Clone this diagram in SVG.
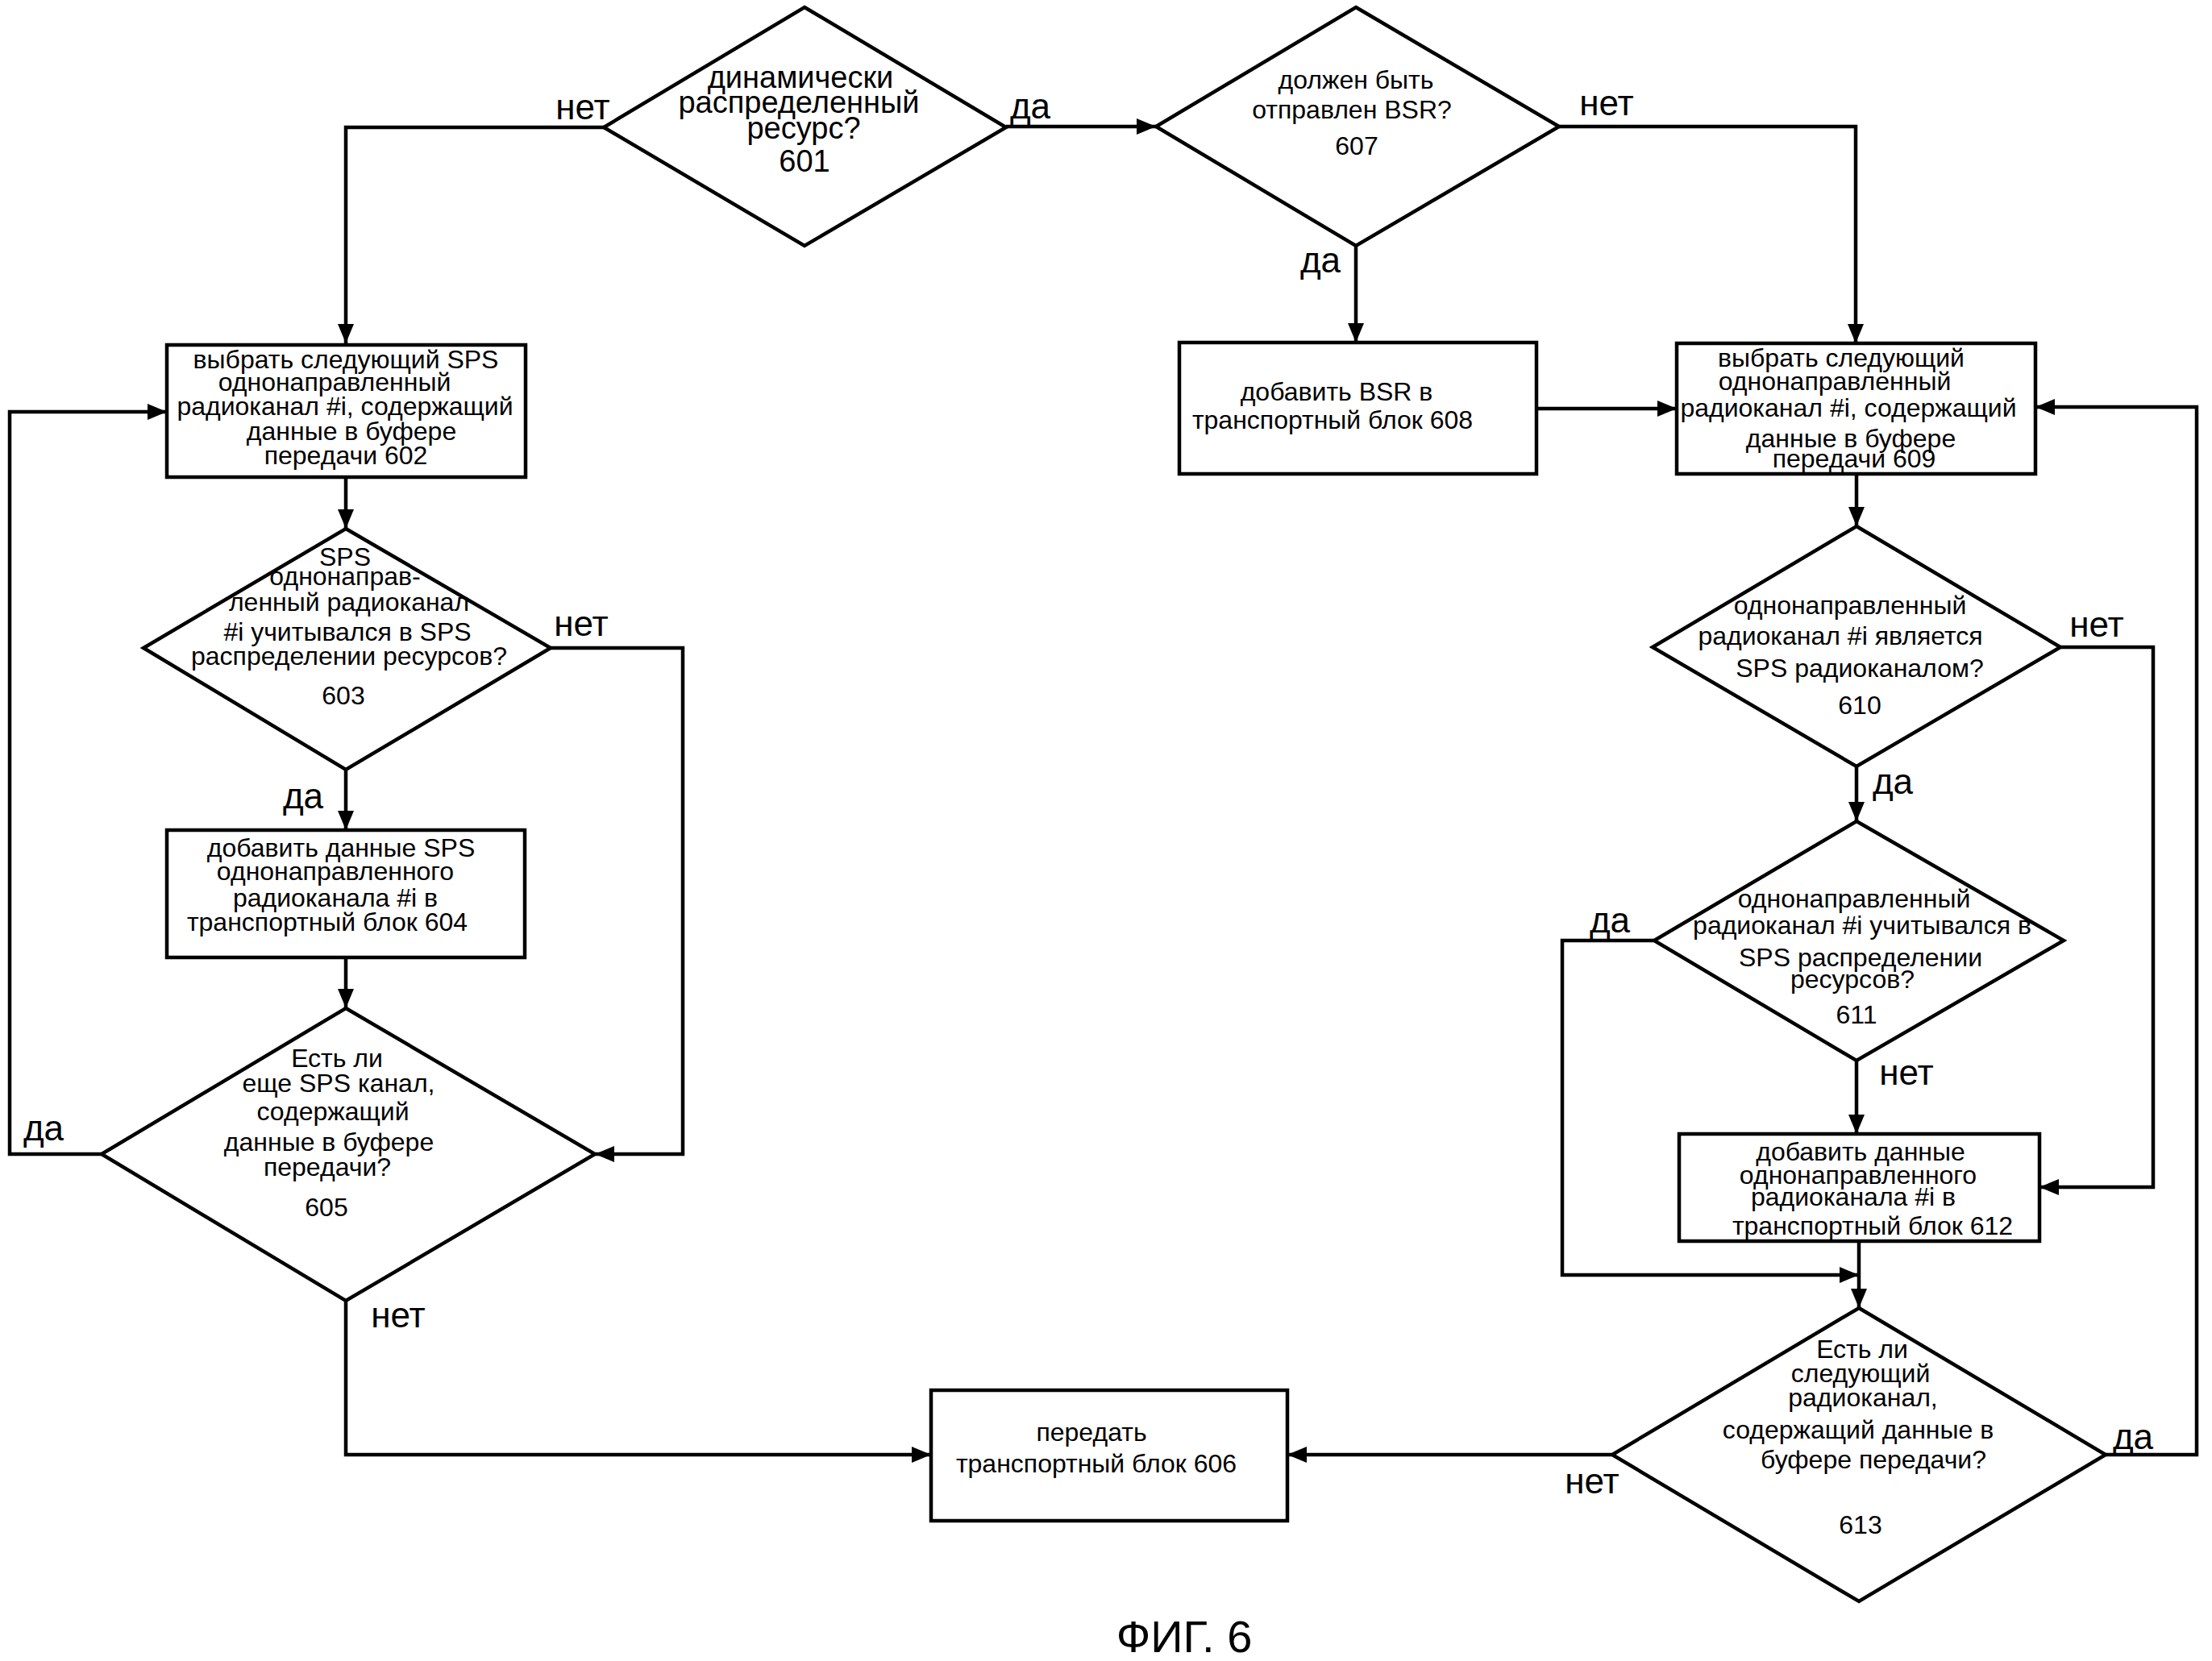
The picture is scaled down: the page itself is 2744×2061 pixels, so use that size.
<svg xmlns="http://www.w3.org/2000/svg" width="2744" height="2061" viewBox="0 0 2744 2061">
<defs>
<style>
.n{fill:#fff;stroke:#000;stroke-width:4.5;stroke-linejoin:miter}
.c{fill:none;stroke:#000;stroke-width:4.5;marker-end:url(#ah)}
text{font-family:"Liberation Sans",Arial,sans-serif;fill:#000;text-anchor:middle}
.t{font-size:32px}
.b{font-size:38px}
.l{font-size:44px}
.f{font-size:56px}
</style>
<marker id="ah" markerUnits="userSpaceOnUse" markerWidth="26" markerHeight="20" refX="24" refY="10" orient="auto">
<path d="M0,0 L24,10 L0,20 z" fill="#000"/>
</marker>
</defs>
<rect width="2744" height="2061" fill="#fff"/>
<g id="connectors">
<path class="c" d="M749,158 H429 V426"/>
<path class="c" d="M1248,157 H1434"/>
<path class="c" d="M1934,157 H2302 V426"/>
<path class="c" d="M1682,305 V425"/>
<path class="c" d="M1906,507 H2080"/>
<path class="c" d="M2303,588 V653"/>
<path class="c" d="M2556,803 H2671 V1473 H2530"/>
<path class="c" d="M2303,951 V1019"/>
<path class="c" d="M2052,1167 H1938 V1582 H2306"/>
<path class="c" d="M2303,1316 V1407"/>
<path class="c" d="M2306,1540 V1623"/>
<path class="c" d="M2000,1805 H1597"/>
<path class="c" d="M2612,1805 H2725 V505 H2525"/>
<path class="c" d="M429,592 V656"/>
<path class="c" d="M683,804 H847 V1432 H738"/>
<path class="c" d="M429,955 V1030"/>
<path class="c" d="M429,1188 V1251"/>
<path class="c" d="M126,1432 H12 V511 H207"/>
<path class="c" d="M429,1614 V1805 H1155"/>
<text class="l" x="723" y="148">нет</text>
<text class="l" x="1278" y="147">да</text>
<text class="l" x="1993" y="143">нет</text>
<text class="l" x="1638" y="338">да</text>
<text class="l" x="721" y="789">нет</text>
<text class="l" x="376" y="1003">да</text>
<text class="l" x="54" y="1415">да</text>
<text class="l" x="494" y="1647">нет</text>
<text class="l" x="2601" y="790">нет</text>
<text class="l" x="2348" y="985">да</text>
<text class="l" x="1997" y="1157">да</text>
<text class="l" x="2365" y="1346">нет</text>
<text class="l" x="1975" y="1853">нет</text>
<text class="l" x="2646" y="1798">да</text>
</g>
<g id="n601">
<polygon class="n" points="998,9 1248,158 998,305 749,158"/>
<text class="b" x="993" y="109">динамически</text>
<text class="b" x="991" y="140">распределенный</text>
<text class="b" x="997" y="172">ресурс?</text>
<text class="b" x="998" y="213">601</text>
</g>
<g id="n607">
<polygon class="n" points="1682,9 1934,157 1682,305 1434,157"/>
<text class="t" x="1682" y="110">должен быть</text>
<text class="t" x="1677" y="147">отправлен BSR?</text>
<text class="t" x="1683" y="192">607</text>
</g>
<g id="n608">
<rect class="n" x="1463" y="425" width="443" height="163"/>
<text class="t" x="1658" y="497">добавить BSR в</text>
<text class="t" x="1653" y="532">транспортный блок 608</text>
</g>
<g id="n609">
<rect class="n" x="2080" y="426" width="445" height="162"/>
<text class="t" x="2284" y="455">выбрать следующий</text>
<text class="t" x="2276" y="484">однонаправленный</text>
<text class="t" x="2293" y="517">радиоканал #i, содержащий</text>
<text class="t" x="2296" y="555">данные в буфере</text>
<text class="t" x="2300" y="580">передачи 609</text>
</g>
<g id="n610">
<polygon class="n" points="2303,653 2556,803 2303,951 2050,803"/>
<text class="t" x="2295" y="762">однонаправленный</text>
<text class="t" x="2283" y="800">радиоканал #i является</text>
<text class="t" x="2307" y="840">SPS радиоканалом?</text>
<text class="t" x="2307" y="886">610</text>
</g>
<g id="n611">
<polygon class="n" points="2303,1019 2560,1167 2303,1316 2052,1167"/>
<text class="t" x="2300" y="1126">однонаправленный</text>
<text class="t" x="2310" y="1159">радиоканал #i учитывался в</text>
<text class="t" x="2308" y="1199">SPS распределении</text>
<text class="t" x="2298" y="1226">ресурсов?</text>
<text class="t" x="2303" y="1270">611</text>
</g>
<g id="n612">
<rect class="n" x="2083" y="1407" width="447" height="133"/>
<text class="t" x="2308" y="1440">добавить данные</text>
<text class="t" x="2305" y="1469">однонаправленного</text>
<text class="t" x="2299" y="1496">радиоканала #i в</text>
<text class="t" x="2323" y="1532">транспортный блок 612</text>
</g>
<g id="n613">
<polygon class="n" points="2306,1623 2612,1805 2306,1987 2000,1805"/>
<text class="t" x="2310" y="1685">Есть ли</text>
<text class="t" x="2308" y="1715">следующий</text>
<text class="t" x="2311" y="1745">радиоканал,</text>
<text class="t" x="2305" y="1785">содержащий данные в</text>
<text class="t" x="2324" y="1822">буфере передачи?</text>
<text class="t" x="2308" y="1903">613</text>
</g>
<g id="n606">
<rect class="n" x="1155" y="1725" width="442" height="162"/>
<text class="t" x="1354" y="1788">передать</text>
<text class="t" x="1360" y="1827">транспортный блок 606</text>
</g>
<g id="n602">
<rect class="n" x="207" y="428" width="445" height="164"/>
<text class="t" x="429" y="457">выбрать следующий SPS</text>
<text class="t" x="415" y="485">однонаправленный</text>
<text class="t" x="428" y="515">радиоканал #i, содержащий</text>
<text class="t" x="436" y="546">данные в буфере</text>
<text class="t" x="429" y="576">передачи 602</text>
</g>
<g id="n603">
<polygon class="n" points="429,656 683,804 429,955 178,804"/>
<text class="t" x="428" y="702">SPS</text>
<text class="t" x="428" y="726">однонаправ-</text>
<text class="t" x="433" y="758">ленный радиоканал</text>
<text class="t" x="431" y="795">#i учитывался в SPS</text>
<text class="t" x="433" y="825">распределении ресурсов?</text>
<text class="t" x="426" y="874">603</text>
</g>
<g id="n604">
<rect class="n" x="207" y="1030" width="444" height="158"/>
<text class="t" x="423" y="1063">добавить данные SPS</text>
<text class="t" x="416" y="1092">однонаправленного</text>
<text class="t" x="416" y="1125">радиоканала #i в</text>
<text class="t" x="406" y="1155">транспортный блок 604</text>
</g>
<g id="n605">
<polygon class="n" points="429,1251 738,1432 429,1614 126,1432"/>
<text class="t" x="418" y="1324">Есть ли</text>
<text class="t" x="420" y="1355">еще SPS канал,</text>
<text class="t" x="413" y="1390">содержащий</text>
<text class="t" x="408" y="1428">данные в буфере</text>
<text class="t" x="406" y="1459">передачи?</text>
<text class="t" x="405" y="1509">605</text>
</g>
<text class="f" x="1469" y="2050">ФИГ. 6</text>
</svg>
